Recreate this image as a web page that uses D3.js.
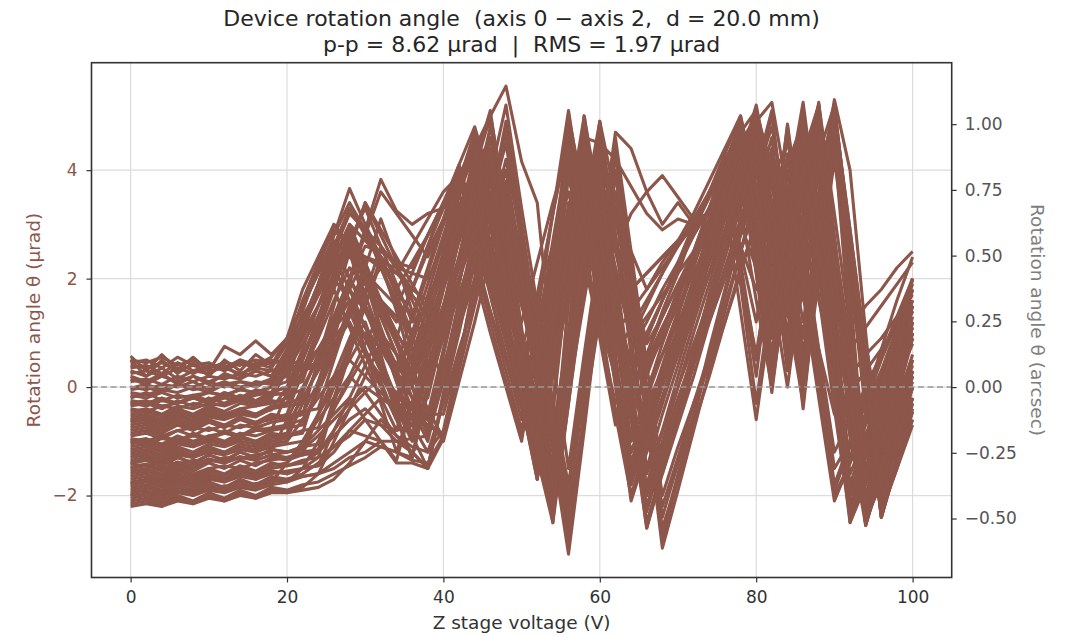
<!DOCTYPE html>
<html>
<head>
<meta charset="utf-8">
<script src="https://cdn.jsdelivr.net/npm/d3@7"></script>
<style>
  body { margin: 0; background: #fff; }
  svg { display: block; }
  text { font-family: "DejaVu Sans", sans-serif; white-space: pre; }
</style>
</head>
<body>
<svg id="chart" width="1066" height="636"></svg>
<script>
// Z stage voltage sweep (V)
const voltage = [0,2,4,6,8,10,12,14,16,18,20,22,24,26,28,30,32,34,36,38,40,42,44,46,48,50,
  52,54,56,58,60,62,64,66,68,70,72,74,76,78,80,82,84,86,88,90,92,94,96,98,100];

// Rotation angle θ (µrad) for each repeated sweep
const scans = [
  [0.57,0.3,0.6,0.32,0.55,0.3,0.75,0.6,0.85,0.6,0.9,1.8,2.4,3.0,2.6,2.1,1.6,1.2,1.8,2.5,3.1,3.8,2.9,2.0,1.1,0.3,1.7,3.2,4.6,3.4,2.2,1.0,1.4,1.8,2.2,2.6,3.0,3.5,3.9,3.0,2.2,3.2,4.2,2.9,1.6,0.3,0.7,1.1,1.5,1.9,2.3],
  [0.45,0.5,0.35,0.55,0.4,0.45,0.3,0.5,0.4,0.55,0.9,1.5,2.1,2.6,2.0,1.5,0.9,0.4,1.3,2.2,3.1,4.0,2.9,1.7,0.5,-0.6,1.3,3.2,5.1,3.2,1.3,-0.5,0.2,0.9,1.6,2.3,3.0,3.6,4.1,2.3,0.5,2.6,4.8,2.6,0.4,-1.8,-1.0,-0.2,0.7,1.6,2.4],
  [0.3,0.2,0.35,0.15,0.3,0.25,0.4,0.2,0.45,0.35,0.8,1.3,1.8,2.2,1.6,0.9,0.3,-0.3,0.6,1.5,2.4,3.2,2.1,1.0,0.0,-1.0,0.8,2.5,4.2,2.6,0.9,-0.7,-0.1,0.5,1.1,1.7,2.3,2.9,3.4,1.4,-0.6,1.5,3.6,1.7,-0.2,-2.1,-1.4,-0.6,0.2,0.9,1.6],
  [0.15,0.05,0.2,0.1,0.2,0.05,0.25,0.15,0.3,0.2,0.7,1.6,2.3,2.9,2.6,2.4,2.2,2.1,2.6,3.1,3.6,3.9,3.3,2.6,1.9,1.2,2.3,3.4,4.4,3.8,3.1,2.5,3.2,3.6,3.9,3.5,3.1,3.2,4.1,3.5,3.0,3.8,4.5,3.3,2.0,0.8,1.1,1.5,1.8,2.2,2.5],
  [0.0,-0.05,0.05,0.0,0.1,-0.05,0.05,0.1,0.0,0.15,0.6,1.4,2.2,3.0,2.6,2.0,1.4,0.9,1.8,2.6,3.4,4.1,3.1,2.1,1.0,0.0,1.6,3.2,4.8,3.3,1.7,0.2,0.7,1.2,1.8,2.3,2.8,3.3,3.8,2.5,1.2,2.9,4.6,2.7,0.7,-1.2,-0.6,0.0,0.6,1.2,1.8],
  [-0.1,-0.15,-0.05,-0.1,0.0,-0.1,0.05,-0.05,0.1,0.05,0.6,1.2,1.8,2.4,1.8,1.1,0.5,-0.2,0.8,1.7,2.7,3.6,2.5,1.4,0.3,-0.8,0.8,2.3,3.9,2.8,1.7,0.6,1.1,1.6,2.1,2.6,3.1,3.6,4.0,1.9,-0.3,1.8,4.0,2.0,0.0,-2.0,-1.4,-0.7,-0.1,0.6,1.2],
  [-0.2,-0.1,-0.25,-0.15,-0.2,-0.1,-0.15,-0.05,-0.1,0.0,0.5,1.2,1.9,2.7,2.4,2.1,1.8,1.5,2.1,2.8,3.4,3.9,3.1,2.3,1.5,0.7,1.7,2.6,3.6,2.3,1.0,-0.3,0.3,0.9,1.6,2.2,2.9,3.5,4.15,2.1,0.2,2.5,4.85,2.7,0.6,-1.5,-1.0,-0.5,0.0,0.5,0.9],
  [-0.3,-0.35,-0.25,-0.3,-0.2,-0.25,-0.15,-0.2,-0.1,-0.1,0.4,0.9,1.5,2.0,1.6,1.1,0.7,0.2,0.9,1.6,2.3,3.0,2.2,1.4,0.5,-0.3,1.1,2.6,4.0,3.2,2.4,1.5,1.8,2.1,2.4,2.7,2.9,3.2,3.5,2.6,1.8,2.5,3.3,2.0,0.7,-0.5,-0.1,0.3,0.7,1.1,1.5],
  [-0.45,-0.4,-0.5,-0.35,-0.4,-0.3,-0.35,-0.25,-0.3,-0.2,0.3,0.8,1.3,1.8,1.1,0.4,-0.2,-0.8,0.2,1.2,2.3,3.4,2.3,1.2,0.1,-0.9,0.9,2.7,4.4,2.7,1.0,-0.6,0.0,0.6,1.3,1.9,2.5,3.1,3.7,2.1,0.6,2.4,4.3,2.2,0.1,-1.9,-1.1,-0.3,0.5,1.2,2.0],
  [-0.15,-0.2,-0.1,-0.2,-0.15,-0.1,-0.15,-0.05,-0.1,0.0,0.1,1.0,1.9,2.8,3.66,3.0,2.4,1.7,1.0,1.9,2.8,3.7,4.6,3.2,1.8,0.3,-1.2,0.8,2.9,4.9,2.9,1.0,-1.0,-0.1,0.8,1.6,2.4,3.3,4.1,4.9,3.2,1.5,3.3,5.0,2.6,0.2,-2.3,-1.2,-0.2,0.8,1.8],
  [-0.3,-0.25,-0.35,-0.3,-0.2,-0.3,-0.2,-0.25,-0.15,-0.1,0.0,0.7,1.5,2.3,3.0,2.3,1.6,0.9,0.2,1.1,2.0,3.0,3.9,2.5,1.1,-0.3,-1.7,0.4,2.5,4.5,2.3,0.1,-2.1,-1.2,-0.3,0.7,1.7,2.7,3.7,4.6,2.4,0.1,2.3,4.4,2.1,-0.2,-2.5,-1.6,-0.7,0.2,1.0],
  [-0.4,-0.45,-0.35,-0.4,-0.3,-0.35,-0.3,-0.2,-0.25,-0.15,-0.1,0.5,1.2,1.9,2.5,1.7,0.9,0.1,-0.6,0.6,1.8,3.0,4.2,3.0,1.8,0.6,-0.5,1.3,3.2,5.0,3.3,1.5,-0.2,0.6,1.4,2.1,2.9,3.6,4.3,5.0,3.5,2.0,3.6,5.25,3.0,0.7,-1.6,-0.9,-0.2,0.5,1.2],
  [-0.55,-0.5,-0.6,-0.45,-0.55,-0.4,-0.5,-0.4,-0.35,-0.3,-0.2,0.3,0.9,1.6,2.2,1.9,1.6,1.3,1.0,1.6,2.2,2.8,3.4,2.6,1.8,0.9,0.1,1.3,2.6,3.8,2.7,1.6,0.4,1.0,1.6,2.2,2.8,3.3,3.9,4.4,3.5,2.6,3.4,4.1,2.4,0.8,-0.9,-0.3,0.3,0.9,1.4],
  [-0.7,-0.65,-0.75,-0.6,-0.7,-0.55,-0.6,-0.5,-0.55,-0.4,-0.3,0.2,0.7,1.2,1.6,0.9,0.3,-0.4,-1.0,0.0,1.0,2.0,3.0,1.9,0.8,-0.3,-1.4,0.5,2.4,4.3,2.4,0.5,-1.5,-0.7,0.1,1.0,1.8,2.6,3.4,4.2,2.5,0.9,2.8,4.7,2.4,0.1,-2.2,-1.3,-0.4,0.4,1.2],
  [-0.85,-0.8,-0.9,-0.8,-0.75,-0.8,-0.7,-0.75,-0.65,-0.6,-0.5,0.3,1.1,2.0,2.8,2.2,1.6,1.0,0.5,1.5,2.5,3.5,4.5,3.1,1.7,0.4,-1.0,0.7,2.4,4.0,2.1,0.2,-1.8,-0.8,0.1,1.1,2.0,2.9,3.8,4.7,2.9,1.1,3.1,5.1,2.7,0.4,-2.0,-1.1,-0.2,0.7,1.6],
  [-1.0,-0.95,-1.05,-0.9,-1.0,-0.9,-0.85,-0.9,-0.8,-0.75,-0.7,-0.2,0.3,0.8,1.2,0.6,0.0,-0.6,-1.3,-0.1,1.2,2.4,3.7,2.7,1.7,0.8,-0.2,1.4,3.0,4.6,3.4,2.1,0.9,1.3,1.7,2.1,2.5,2.9,3.3,3.6,2.7,1.7,3.0,4.3,2.4,0.5,-1.3,-0.6,0.1,0.7,1.4],
  [-1.15,-1.1,-1.2,-1.05,-1.1,-1.0,-1.05,-0.95,-1.0,-0.9,-0.85,-0.1,0.6,1.3,2.0,1.4,0.8,0.2,-0.4,0.4,1.2,2.0,2.8,1.7,0.6,-0.4,-1.5,0.2,1.9,3.5,1.9,0.3,-1.2,-0.5,0.2,0.9,1.6,2.4,3.1,3.9,2.1,0.3,2.0,3.8,1.7,-0.4,-2.4,-1.6,-0.9,-0.2,0.5],
  [-0.05,0.0,-0.1,0.05,-0.05,0.0,0.1,0.0,0.05,0.1,0.2,1.0,1.8,2.5,3.2,2.9,2.6,2.2,1.8,2.6,3.3,4.1,4.8,3.8,2.8,1.8,0.8,2.0,3.2,4.4,3.5,2.7,1.8,2.1,2.4,2.7,2.9,3.2,4.0,4.8,4.1,3.3,4.1,4.9,3.3,1.8,0.2,0.6,0.9,1.3,1.7],
  [-1.3,-1.25,-1.35,-1.2,-1.3,-1.15,-1.2,-1.1,-1.15,-1.05,-1.0,-0.6,-0.2,0.2,0.5,0.2,-0.1,-0.4,-0.6,0.4,1.3,2.3,3.3,2.2,1.1,0.0,-1.0,0.6,2.3,3.9,2.1,0.2,-1.6,-0.7,0.2,1.1,2.0,2.8,3.7,4.5,2.6,0.6,2.7,4.9,2.7,0.4,-1.8,-0.9,0.0,0.9,1.8],
  [0.35,0.4,0.25,0.45,0.3,0.4,0.35,0.5,0.4,0.45,0.5,1.0,1.5,2.1,2.6,1.9,1.3,0.6,0.0,1.0,2.0,3.0,4.0,2.6,1.3,-0.1,-1.4,0.6,2.6,4.7,2.7,0.6,-1.4,-0.6,0.2,1.0,1.8,2.7,3.5,4.3,2.1,-0.1,2.2,4.5,2.2,-0.1,-2.3,-1.5,-0.7,0.1,0.9],
  [-0.9,-0.85,-0.95,-0.8,-0.9,-0.75,-0.85,-0.7,-0.75,-0.65,-0.6,-0.5,0.5,1.5,2.5,3.4,2.8,2.2,1.6,1.0,2.0,3.0,4.0,5.0,3.4,1.7,0.1,-1.5,0.6,2.7,4.9,2.8,0.6,-1.5,-0.5,0.4,1.4,2.3,3.3,4.2,5.2,3.7,2.2,3.7,5.25,2.8,0.4,-2.0,-1.0,0.0,1.0],
  [-1.05,-1.0,-1.1,-0.95,-1.05,-0.9,-1.0,-0.85,-0.9,-0.8,-0.75,-0.7,0.0,0.7,1.5,2.2,1.5,0.8,0.0,-0.8,0.6,1.9,3.3,4.6,2.8,1.0,-0.8,-2.5,-0.3,2.0,4.2,1.9,-0.4,-2.6,-1.5,-0.5,0.6,1.7,2.7,3.8,4.9,2.6,0.3,2.6,5.0,2.5,0.0,-2.55,-1.5,-0.5,0.5],
  [-1.2,-1.15,-1.25,-1.1,-1.2,-1.05,-1.1,-1.0,-1.05,-0.95,-0.9,-0.85,0.1,1.0,2.0,2.9,2.2,1.6,0.9,0.3,1.3,2.3,3.2,4.2,3.0,1.7,0.5,-0.8,1.0,2.8,4.5,2.8,1.2,-0.5,0.2,0.9,1.6,2.4,3.1,3.8,4.6,3.0,1.4,3.0,4.6,2.5,0.4,-1.7,-0.8,0.1,1.0],
  [-1.35,-1.3,-1.4,-1.25,-1.3,-1.2,-1.25,-1.15,-1.2,-1.1,-1.05,-1.0,-0.5,0.0,0.5,1.0,0.4,-0.3,-0.9,-1.5,-0.2,1.1,2.3,3.6,2.2,0.8,-0.6,-2.0,-0.1,1.9,3.8,1.9,0.0,-2.0,-1.1,-0.2,0.6,1.5,2.4,3.3,4.2,2.3,0.5,2.4,4.4,2.1,-0.2,-2.4,-1.6,-0.8,0.0],
  [-1.5,-1.45,-1.55,-1.4,-1.5,-1.35,-1.4,-1.3,-1.35,-1.25,-1.2,-1.15,-0.9,-0.6,-0.3,0.0,-0.2,-0.4,-0.5,-0.6,0.6,1.9,3.2,4.4,3.0,1.6,0.2,-1.2,0.8,2.8,4.7,2.8,0.9,-1.0,-0.2,0.7,1.5,2.3,3.1,4.0,4.8,3.4,1.9,3.5,5.1,2.7,0.3,-2.2,-1.2,-0.3,0.6],
  [-1.6,-1.55,-1.65,-1.5,-1.6,-1.5,-1.45,-1.5,-1.4,-1.35,-1.3,-1.25,-0.5,0.2,0.9,1.5,1.0,0.4,0.0,-0.6,0.4,1.3,2.3,3.2,2.0,0.7,-0.5,-1.8,-0.1,1.6,3.3,1.5,-0.4,-2.2,-1.3,-0.4,0.4,1.3,2.2,3.1,4.0,2.4,0.8,2.5,4.2,2.0,-0.3,-2.5,-1.7,-1.0,-0.3],
  [-0.65,-0.6,-0.7,-0.55,-0.65,-0.5,-0.55,-0.45,-0.5,-0.4,-0.35,-0.3,0.4,1.1,1.8,2.4,2.3,2.2,2.1,2.0,2.6,3.3,4.0,4.6,3.6,2.5,1.5,0.4,1.6,2.8,4.0,3.3,2.5,1.8,2.3,2.7,3.0,3.2,4.0,4.5,5.0,4.1,3.2,4.2,5.2,3.2,1.1,-1.0,-0.3,0.4,1.1],
  [-1.75,-1.7,-1.8,-1.65,-1.75,-1.6,-1.7,-1.55,-1.6,-1.5,-1.45,-1.4,-1.2,-0.9,-0.6,-0.4,-0.7,-1.0,-1.2,-1.5,-0.1,1.2,2.6,3.9,2.4,0.8,-0.7,-2.2,0.0,2.2,4.3,2.0,-0.3,-2.5,-1.5,-0.4,0.6,1.7,2.7,3.7,4.7,2.8,1.0,2.9,4.8,2.4,0.0,-2.5,-1.3,-0.2,0.9],
  [-0.95,-1.0,-0.9,-1.0,-0.85,-0.95,-0.8,-0.9,-0.75,-0.8,-0.7,-0.6,-0.1,0.6,1.3,2.0,1.3,0.6,-0.2,-0.9,0.1,1.1,2.0,3.0,2.0,1.0,0.0,-1.0,0.6,2.2,3.7,2.5,1.2,0.0,0.6,1.2,1.8,2.5,3.1,3.7,4.3,2.5,0.7,2.3,3.9,2.1,0.3,-1.5,-0.5,0.5,1.5],
  [-1.85,-1.8,-1.9,-1.75,-1.85,-1.7,-1.75,-1.65,-1.7,-1.6,-1.55,-1.5,-1.0,-0.4,0.1,0.6,0.2,-0.3,-0.7,-1.2,-0.3,0.7,1.6,2.6,1.5,0.5,-0.6,-1.6,0.3,2.2,4.1,2.1,0.1,-1.9,-1.1,-0.3,0.5,1.2,2.0,2.8,3.6,1.8,0.0,2.2,4.5,2.2,0.0,-2.3,-1.5,-0.7,0.1],
  [-0.25,-0.3,-0.2,-0.3,-0.15,-0.25,-0.1,-0.2,-0.05,-0.1,0.0,0.1,1.0,1.8,2.6,3.4,2.9,2.4,1.9,1.4,2.1,2.7,3.4,4.0,3.1,2.1,1.2,0.2,1.7,3.2,4.6,3.2,1.8,0.4,1.0,1.7,2.3,3.0,3.6,4.3,4.9,3.7,2.6,3.6,4.7,2.7,0.8,-1.2,0.0,1.0,2.0],
  [-0.5,-0.45,-0.55,-0.4,-0.5,-0.35,-0.45,-0.3,-0.35,-0.25,-0.3,-0.2,-0.1,0.9,1.9,2.9,3.83,3.25,3.0,3.2,3.3,3.7,4.4,5.0,5.55,4.16,3.4,0.5,-1.5,0.6,2.6,4.7,4.4,3.6,3.0,3.4,3.0,3.2,3.9,4.5,4.9,5.25,3.6,2.0,3.6,5.3,4.0,1.0,-1.8,-0.8,0.3],
  [-1.4,-1.35,-1.45,-1.3,-1.4,-1.25,-1.35,-1.2,-1.3,-1.15,-1.2,-1.1,-1.05,-0.4,0.2,0.8,1.4,0.8,0.2,-0.4,-0.95,0.5,1.9,3.4,4.9,3.0,1.1,-0.9,-2.8,-0.4,2.0,4.4,2.0,-0.4,-2.8,-1.7,-0.6,0.6,1.7,2.8,3.9,5.0,2.8,0.6,2.9,5.1,2.6,0.1,-2.4,-1.4,-0.45],
  [-1.55,-1.5,-1.6,-1.45,-1.55,-1.4,-1.5,-1.35,-1.45,-1.3,-1.35,-1.25,-1.2,-0.8,-0.4,-0.1,0.2,-0.1,-0.4,-0.7,-0.9,0.5,2.0,3.4,4.5,2.6,0.7,-1.2,-3.08,-0.8,1.6,4.0,1.7,-0.6,-2.97,-1.9,-0.8,0.3,1.4,2.5,3.6,4.6,2.1,-0.4,2.3,4.9,2.5,0.1,-2.2,-1.3,-0.45],
  [-1.65,-1.6,-1.7,-1.55,-1.65,-1.5,-1.6,-1.45,-1.55,-1.4,-1.45,-1.35,-1.3,-0.3,0.6,1.5,2.4,1.8,1.3,0.7,0.2,1.4,2.7,3.9,5.2,3.3,1.5,-0.4,-2.2,0.0,2.3,4.5,2.2,-0.1,-2.4,-1.4,-0.5,0.5,1.5,2.5,3.4,4.4,2.8,1.2,3.0,4.7,2.5,0.3,-1.9,-1.0,0.0],
  [-1.8,-1.75,-1.85,-1.7,-1.8,-1.65,-1.75,-1.6,-1.7,-1.55,-1.6,-1.5,-1.45,-1.2,-0.8,-0.5,-0.2,-0.3,-0.4,-0.5,-0.5,0.6,1.7,2.9,4.0,2.3,0.7,-1.0,-2.6,-0.5,1.6,3.6,1.5,-0.6,-2.6,-1.7,-0.7,0.2,1.2,2.1,3.1,4.0,1.9,-0.2,2.0,4.2,2.0,-0.2,-2.3,-1.5,-0.7],
  [-1.95,-1.9,-2.0,-1.85,-1.95,-1.8,-1.9,-1.75,-1.85,-1.7,-1.75,-1.65,-1.6,-1.5,-1.3,-1.2,-1.0,-1.4,-1.4,-1.5,-0.95,0.5,1.9,3.3,4.7,2.8,0.9,-1.0,-2.9,-0.5,1.9,4.3,1.9,-0.4,-2.7,-1.6,-0.5,0.7,1.8,2.9,4.0,5.1,2.5,0.0,2.6,5.2,2.7,0.2,-2.4,-1.4,-0.3],
  [-2.1,-2.05,-2.15,-2.0,-2.1,-1.95,-2.05,-1.9,-2.0,-1.85,-1.9,-1.8,-1.75,-1.6,-1.45,-1.3,-1.1,-1.2,-1.35,-1.4,-0.9,0.3,1.5,2.6,3.8,2.3,0.7,-0.8,-2.4,-0.5,1.3,3.2,1.4,-0.4,-2.2,-1.3,-0.3,0.6,1.5,2.5,3.4,4.3,2.3,0.4,2.4,4.4,2.3,0.1,-2.0,-1.0,0.0],
  [-2.2,-2.15,-2.2,-2.1,-2.15,-2.05,-2.1,-2.0,-2.05,-1.95,-1.95,-1.9,-1.85,-1.7,-1.4,-1.0,-0.6,-0.9,-1.1,-1.2,-0.8,0.5,1.8,3.0,4.2,2.7,1.2,-0.3,-1.8,0.3,2.4,4.6,2.5,0.4,-1.6,-0.7,0.2,1.2,2.1,3.0,3.9,4.8,3.2,1.6,3.3,5.0,2.9,0.7,-1.4,-0.9,-0.2],
  [-2.0,-1.95,-2.05,-1.9,-2.0,-1.85,-1.9,-1.8,-1.85,-1.75,-1.7,-1.65,-1.6,-1.0,-0.4,0.2,0.8,0.3,-0.2,-0.6,-1.0,0.1,1.2,2.4,3.5,2.1,0.8,-0.6,-2.0,-0.1,1.9,3.9,2.0,0.0,-2.0,-1.1,-0.3,0.4,1.2,2.2,3.0,3.9,2.4,0.9,2.7,4.6,2.4,0.2,-2.1,-1.1,-0.2],
  [0.5,0.45,0.55,0.4,0.5,0.35,0.45,0.4,0.5,0.45,0.5,1.2,1.9,2.6,3.3,2.8,2.3,1.8,1.3,0.8,1.8,2.7,3.7,4.6,3.2,1.8,0.4,-1.0,0.8,2.6,4.4,3.1,1.8,0.5,1.1,1.7,2.4,3.0,3.6,4.3,4.9,3.4,1.8,2.9,4.0,5.0,1.6,-1.8,-0.7,0.4,1.5],
  [-0.6,-0.55,-0.65,-0.5,-0.6,-0.45,-0.55,-0.4,-0.5,-0.35,-0.3,0.5,1.3,2.1,2.9,2.2,1.6,1.0,0.5,0.0,1.0,2.0,3.0,4.0,2.4,0.9,-0.7,-2.3,-0.2,1.9,4.0,1.9,-0.2,-2.3,-1.3,-0.4,0.6,1.6,2.5,3.5,4.5,2.5,0.4,1.8,3.2,4.7,1.1,-2.5,-1.6,-0.7,0.2],
  [-1.25,-1.2,-1.3,-1.15,-1.25,-1.1,-1.2,-1.05,-1.1,-1.0,-0.95,-0.3,0.4,1.1,1.8,1.4,1.0,0.6,0.2,-0.2,1.0,2.3,3.5,4.8,3.2,1.6,0.0,-1.6,0.5,2.5,4.6,2.7,0.7,-1.2,-0.3,0.6,1.5,2.4,3.3,4.2,5.1,3.8,2.5,3.4,4.3,5.2,1.8,-1.7,-0.8,0.1,1.0],
  [-1.7,-1.65,-1.75,-1.6,-1.7,-1.55,-1.65,-1.5,-1.6,-1.45,-1.4,-1.0,-0.6,-0.2,0.2,-0.1,-0.5,-0.9,-1.2,-1.5,-0.2,1.0,2.3,3.5,2.2,0.9,-0.5,-1.8,0.0,1.8,3.6,1.5,-0.6,-2.6,-1.6,-0.6,0.4,1.4,2.4,3.4,4.4,2.6,0.8,2.0,3.2,4.5,1.0,-2.55,-1.6,-0.7,0.2],
  [0.1,0.15,0.05,0.2,0.1,0.2,0.15,0.25,0.2,0.3,0.35,1.1,1.7,2.4,3.0,2.7,2.4,2.1,1.8,1.6,2.3,2.9,3.6,4.3,3.3,2.3,1.3,0.3,1.8,3.3,4.9,3.5,2.1,0.8,1.3,1.9,2.4,3.0,3.5,4.1,4.6,3.8,3.0,3.6,4.2,4.8,2.2,-0.5,0.3,1.1,1.9],
  [-2.05,-2.0,-2.1,-1.95,-2.0,-1.9,-1.95,-1.85,-1.9,-1.8,-1.75,-1.5,-1.3,-1.1,-0.8,-0.9,-1.0,-1.0,-0.95,-0.9,0.3,1.6,2.8,4.1,2.5,0.8,-0.8,-2.4,-0.3,1.8,3.9,1.9,-0.1,-2.0,-1.0,0.0,1.0,1.9,2.9,3.8,4.8,3.0,1.3,2.6,3.9,5.1,1.5,-2.2,-1.3,-0.5,0.3],
  [0.25,0.3,0.2,0.35,0.25,0.4,0.3,0.45,0.35,0.5,0.4,0.5,1.3,2.0,2.7,3.3,2.6,1.9,1.2,2.1,3.0,3.8,4.7,3.5,2.2,0.9,-0.3,-1.5,1.6,4.7,2.9,1.1,-0.6,0.2,1.0,1.8,2.5,3.3,4.1,4.9,3.0,1.0,2.3,3.7,5.0,1.4,-2.2,-1.2,-0.3,0.6,1.5],
  [-0.8,-0.75,-0.85,-0.7,-0.8,-0.65,-0.75,-0.6,-0.7,-0.55,-0.6,-0.5,0.1,0.7,1.4,2.0,1.0,0.1,-0.9,0.3,1.5,2.7,3.9,2.6,1.4,0.1,-1.1,-2.4,0.9,4.2,2.1,0.0,-2.0,-1.1,-0.2,0.7,1.6,2.6,3.5,4.4,2.3,0.2,1.7,3.2,4.6,1.0,-2.5,-1.8,-1.1,-0.4,0.3],
  [-1.4,-1.35,-1.45,-1.3,-1.4,-1.25,-1.35,-1.2,-1.3,-1.15,-1.2,-1.1,-0.5,0.1,0.7,1.2,0.4,-0.5,-1.3,0.1,1.4,2.8,4.2,3.0,1.8,0.6,-0.6,-1.8,1.6,5.0,3.0,1.0,-1.0,-0.2,0.6,1.4,2.3,3.1,3.9,4.7,3.2,1.6,2.8,4.0,5.1,1.6,-1.9,-1.2,-0.5,0.2,0.9],
  [-1.9,-1.85,-1.95,-1.8,-1.9,-1.75,-1.85,-1.7,-1.8,-1.65,-1.7,-1.6,-1.4,-1.1,-0.9,-0.6,-0.7,-0.8,-0.7,0.3,1.3,2.2,3.2,2.1,1.0,-0.1,-1.2,-2.2,0.7,3.7,1.9,0.1,-1.7,-0.9,0.0,0.8,1.7,2.5,3.4,4.2,2.3,0.5,1.8,3.1,4.4,1.0,-2.3,-1.6,-0.9,-0.2,0.5],
  [-0.35,-0.3,-0.4,-0.25,-0.35,-0.2,-0.3,-0.15,-0.25,-0.1,-0.15,-0.05,0.6,1.3,2.0,2.6,2.5,2.3,2.2,2.8,3.4,3.9,4.5,3.5,2.5,1.5,0.5,-0.5,2.2,4.8,3.5,2.2,0.9,1.5,2.1,2.7,3.2,3.8,4.4,5.0,3.7,2.3,3.3,4.3,5.2,2.2,-0.8,-0.1,0.6,1.3,2.0],
  [-2.15,-2.1,-2.2,-2.05,-2.15,-2.0,-2.1,-1.95,-2.05,-1.9,-1.95,-1.85,-1.6,-1.4,-1.2,-1.0,-1.1,-1.2,-1.3,-0.1,1.1,2.4,3.6,2.4,1.2,-0.1,-1.3,-2.5,0.9,4.4,2.5,0.5,-1.4,-0.6,0.2,1.0,1.7,2.5,3.2,4.0,2.5,1.1,2.4,3.6,4.9,1.4,-2.0,-1.3,-0.6,0.1,0.8],
  [0.4,0.35,0.45,0.3,0.4,0.3,0.35,0.25,0.35,0.3,0.4,0.35,0.45,1.2,2.0,2.8,3.6,3.2,2.8,2.4,3.0,3.6,4.3,4.9,3.4,2.0,0.5,1.9,3.3,4.6,4.5,4.2,3.7,3.2,2.9,3.1,3.0,3.6,4.2,4.7,5.1,4.0,2.9,1.8,3.5,5.1,2.9,0.6,-1.6,-0.2,1.2],
  [-1.1,-1.05,-1.15,-1.0,-1.1,-0.95,-1.05,-0.9,-1.0,-0.85,-0.9,-0.8,-0.75,0.0,0.8,1.5,2.3,1.4,0.4,-0.5,0.7,1.9,3.2,4.4,2.5,0.6,-1.2,0.7,2.6,4.5,2.8,1.1,-0.5,-2.2,-1.2,-0.3,0.7,1.7,2.7,3.6,4.6,3.1,1.7,0.2,2.5,4.8,2.4,0.0,-2.4,-1.3,-0.2],
  [-1.78,-1.72,-1.8,-1.68,-1.75,-1.62,-1.7,-1.58,-1.65,-1.55,-1.6,-1.5,-1.45,-0.8,-0.2,0.4,1.0,0.3,-0.4,-1.0,0.2,1.4,2.6,3.8,2.0,0.1,-1.7,-0.2,2.0,4.2,2.7,1.2,-0.3,-1.8,-0.8,0.2,1.2,2.1,3.1,4.0,5.0,3.2,1.4,-0.3,2.4,5.2,2.7,0.2,-2.4,-1.4,-0.4],
  [-0.75,-0.7,-0.8,-0.65,-0.75,-0.6,-0.7,-0.55,-0.65,-0.5,-0.55,-0.45,-0.4,0.5,1.4,2.2,3.1,2.3,1.4,0.6,1.5,2.3,3.2,4.0,2.5,1.0,-0.4,1.0,2.5,3.9,2.7,1.5,0.2,-1.0,-0.2,0.6,1.3,2.1,2.8,3.6,4.3,3.2,2.1,1.0,2.7,4.4,2.3,0.3,-1.8,-0.9,0.0],
  [-1.48,-1.42,-1.5,-1.38,-1.45,-1.32,-1.4,-1.28,-1.35,-1.25,-1.3,-1.2,-1.15,-0.2,0.7,1.7,2.6,2.2,1.7,1.3,2.2,3.2,4.1,5.1,3.1,1.1,-0.9,0.5,1.9,3.4,2.2,0.9,-0.4,-1.6,-0.8,0.0,0.8,1.6,2.5,3.3,4.1,3.4,2.7,2.0,3.5,5.0,2.6,0.2,-2.3,-1.5,-0.6],
  [0.2,0.1,0.25,0.05,0.2,0.1,0.2,0.15,0.3,0.2,0.35,0.3,0.4,0.9,1.3,1.8,2.2,1.5,0.7,0.0,0.9,1.7,2.6,3.4,2.1,0.7,-0.6,1.0,2.5,4.1,3.1,2.2,1.2,0.3,0.9,1.5,2.1,2.7,3.3,3.9,4.4,3.8,3.2,2.6,3.5,4.3,2.6,0.8,-0.9,0.2,1.3],
  [0.5,0.2,0.5,0.25,0.45,0.2,0.5,0.3,0.6,0.4,0.9,1.5,2.1,2.8,3.4,2.9,2.3,1.8,2.3,2.8,3.3,3.9,4.4,3.2,2.0,0.8,-0.4,2.2,4.9,3.5,2.2,0.9,-0.5,0.3,1.0,1.8,2.5,3.3,4.0,4.8,3.0,1.2,3.0,4.7,3.0,1.2,-0.5,-2.2,-0.8,0.6,2.0],
  [-0.02,0.05,-0.05,0.05,0.0,0.1,0.0,0.1,0.05,0.15,0.6,1.1,1.7,2.2,2.8,2.0,1.1,0.3,1.0,1.6,2.3,2.9,3.6,2.3,1.0,-0.2,-1.5,1.4,4.2,2.6,1.1,-0.5,-2.0,-1.1,-0.2,0.7,1.5,2.4,3.3,4.2,2.4,0.6,2.4,4.1,2.4,0.8,-0.9,-2.55,-1.5,-0.6,0.3],
  [-1.0,-1.05,-0.95,-1.0,-0.9,-0.95,-0.85,-0.9,-0.8,-0.8,-0.1,0.6,1.2,1.9,2.5,1.5,0.6,-0.4,0.4,1.3,2.2,3.1,4.0,2.6,1.1,-0.3,-1.7,1.6,5.0,3.5,1.9,0.3,-1.2,-0.4,0.3,1.1,1.9,2.7,3.6,4.4,3.2,1.9,3.4,4.9,3.1,1.4,-0.4,-2.1,-1.0,0.0,1.0],
  [-1.42,-1.45,-1.38,-1.42,-1.35,-1.38,-1.3,-1.32,-1.25,-1.2,-0.6,0.0,0.5,1.1,1.6,0.7,-0.3,-1.2,-0.3,0.6,1.5,2.4,3.3,2.2,1.1,0.0,-1.2,1.3,3.9,2.4,1.0,-0.4,-1.8,-1.0,-0.2,0.6,1.3,2.1,2.9,3.7,2.3,0.9,2.3,3.8,2.3,0.7,-0.8,-2.4,-1.8,-1.2,-0.6],
  [-1.98,-2.0,-1.92,-1.95,-1.88,-1.9,-1.82,-1.85,-1.78,-1.75,-1.4,-1.1,-0.8,-0.5,-0.2,-0.6,-1.0,-1.35,-0.3,0.8,1.9,3.1,4.3,3.0,1.7,0.5,-0.8,1.8,4.5,3.0,1.5,0.1,-1.4,-0.5,0.4,1.3,2.2,3.1,4.0,4.9,3.6,2.4,3.5,4.6,3.1,1.6,0.2,-1.3,-0.5,0.3,1.1],
  [-0.62,-0.58,-0.65,-0.55,-0.6,-0.5,-0.55,-0.48,-0.5,-0.42,0.0,0.4,0.7,1.1,1.4,0.7,0.1,-0.6,0.1,0.8,1.5,2.2,2.9,1.9,0.9,-0.1,-1.1,1.1,3.4,2.3,1.2,0.2,-0.9,-0.3,0.3,0.9,1.5,2.1,2.7,3.3,1.6,0.0,2.0,3.9,2.5,1.1,-0.3,-1.7,-1.0,-0.3,0.4]
];

const xTicks = [0, 20, 40, 60, 80, 100];
const yTicksRad = [-2, 0, 2, 4];
const yTicksArcsec = [-0.5, -0.25, 0, 0.25, 0.5, 0.75, 1.0];
const titleLines = [
  "Device rotation angle  (axis 0 \u2212 axis 2,  d = 20.0 mm)",
  "p-p = 8.62 \u00b5rad  |  RMS = 1.97 \u00b5rad"
];
const xLabel = "Z stage voltage (V)";
const yLabelRad = "Rotation angle \u03b8 (\u00b5rad)";
const yLabelArcsec = "Rotation angle \u03b8 (arcsec)";
const RAD_TO_ARCSEC = 0.2062648;

const lineColor = "#8c564b";
const svg = d3.select("#chart");
const plot = { left: 91.5, right: 951.7, top: 62.7, bottom: 577.5 };

// data extents with 5 % padding on each side
const allVals = scans.flat();
const yMin = d3.min(allVals), yMax = d3.max(allVals);
const yPad = (yMax - yMin) * 0.05;
const x = d3.scaleLinear().domain([-5, 105]).range([plot.left, plot.right]);
const y = d3.scaleLinear().domain([yMin - yPad, yMax + yPad]).range([plot.bottom, plot.top]);
const yArc = d3.scaleLinear()
  .domain(y.domain().map(v => v * RAD_TO_ARCSEC))
  .range(y.range());

// grid
const grid = svg.append("g").attr("stroke", "#dcdcdc").attr("stroke-width", 1.2);
grid.selectAll(".gx").data(xTicks).join("line")
  .attr("x1", d => x(d)).attr("x2", d => x(d))
  .attr("y1", plot.top).attr("y2", plot.bottom);
grid.selectAll(".gy").data(yTicksRad).join("line")
  .attr("x1", plot.left).attr("x2", plot.right)
  .attr("y1", d => y(d)).attr("y2", d => y(d));

// sweeps
const line = d3.line().x((d, i) => x(voltage[i])).y(d => y(d));
svg.append("g")
  .attr("fill", "none")
  .attr("stroke", lineColor)
  .attr("stroke-width", 3.1)
  .attr("stroke-linejoin", "round")
  .selectAll("path").data(scans).join("path")
  .attr("d", d => line(d));

// zero reference
svg.append("line")
  .attr("x1", plot.left).attr("x2", plot.right)
  .attr("y1", y(0)).attr("y2", y(0))
  .attr("stroke", "#999").attr("stroke-width", 1.6)
  .attr("stroke-dasharray", "6,3.5");

// frame
svg.append("rect")
  .attr("x", plot.left).attr("y", plot.top)
  .attr("width", plot.right - plot.left).attr("height", plot.bottom - plot.top)
  .attr("fill", "none").attr("stroke", "#333").attr("stroke-width", 1.6);

function styleAxis(g, color) {
  g.select(".domain").remove();
  g.selectAll(".tick line").attr("stroke", "#333").attr("stroke-width", 1.2);
  g.selectAll(".tick text").attr("fill", color)
    .style("font-family", '"DejaVu Sans", sans-serif').style("font-size", "17px");
}

svg.append("g").attr("transform", `translate(0,${plot.bottom})`)
  .call(d3.axisBottom(x).tickValues(xTicks).tickSize(5).tickPadding(8).tickFormat(d3.format("d")))
  .call(g => styleAxis(g, "#333"));

svg.append("g").attr("transform", `translate(${plot.left},0)`)
  .call(d3.axisLeft(y).tickValues(yTicksRad).tickSize(5).tickPadding(9).tickFormat(d3.format("d")))
  .call(g => styleAxis(g, lineColor));

svg.append("g").attr("transform", `translate(${plot.right},0)`)
  .call(d3.axisRight(yArc).tickValues(yTicksArcsec).tickSize(5).tickPadding(8).tickFormat(d3.format(".2f")))
  .call(g => styleAxis(g, "#555"));

// titles and labels
const cx = (plot.left + plot.right) / 2;
svg.append("text").attr("x", cx).attr("y", 26).attr("text-anchor", "middle")
  .attr("xml:space", "preserve")
  .attr("fill", "#262626").style("font-size", "22px").text(titleLines[0]);
svg.append("text").attr("x", cx).attr("y", 52).attr("text-anchor", "middle")
  .attr("xml:space", "preserve")
  .attr("fill", "#262626").style("font-size", "22px").text(titleLines[1]);
svg.append("text").attr("x", cx).attr("y", 629).attr("text-anchor", "middle")
  .attr("fill", "#333").style("font-size", "18.5px").text(xLabel);
const cy = (plot.top + plot.bottom) / 2;
svg.append("text").attr("transform", `translate(34,${cy}) rotate(-90)`)
  .attr("text-anchor", "middle").attr("dy", "0.35em").attr("fill", lineColor)
  .style("font-size", "18.5px").text(yLabelRad);
svg.append("text").attr("transform", `translate(1037,${cy}) rotate(90)`)
  .attr("text-anchor", "middle").attr("dy", "0.35em").attr("fill", "#7f7f7f")
  .style("font-size", "18.5px").text(yLabelArcsec);
</script>
</body>
</html>
